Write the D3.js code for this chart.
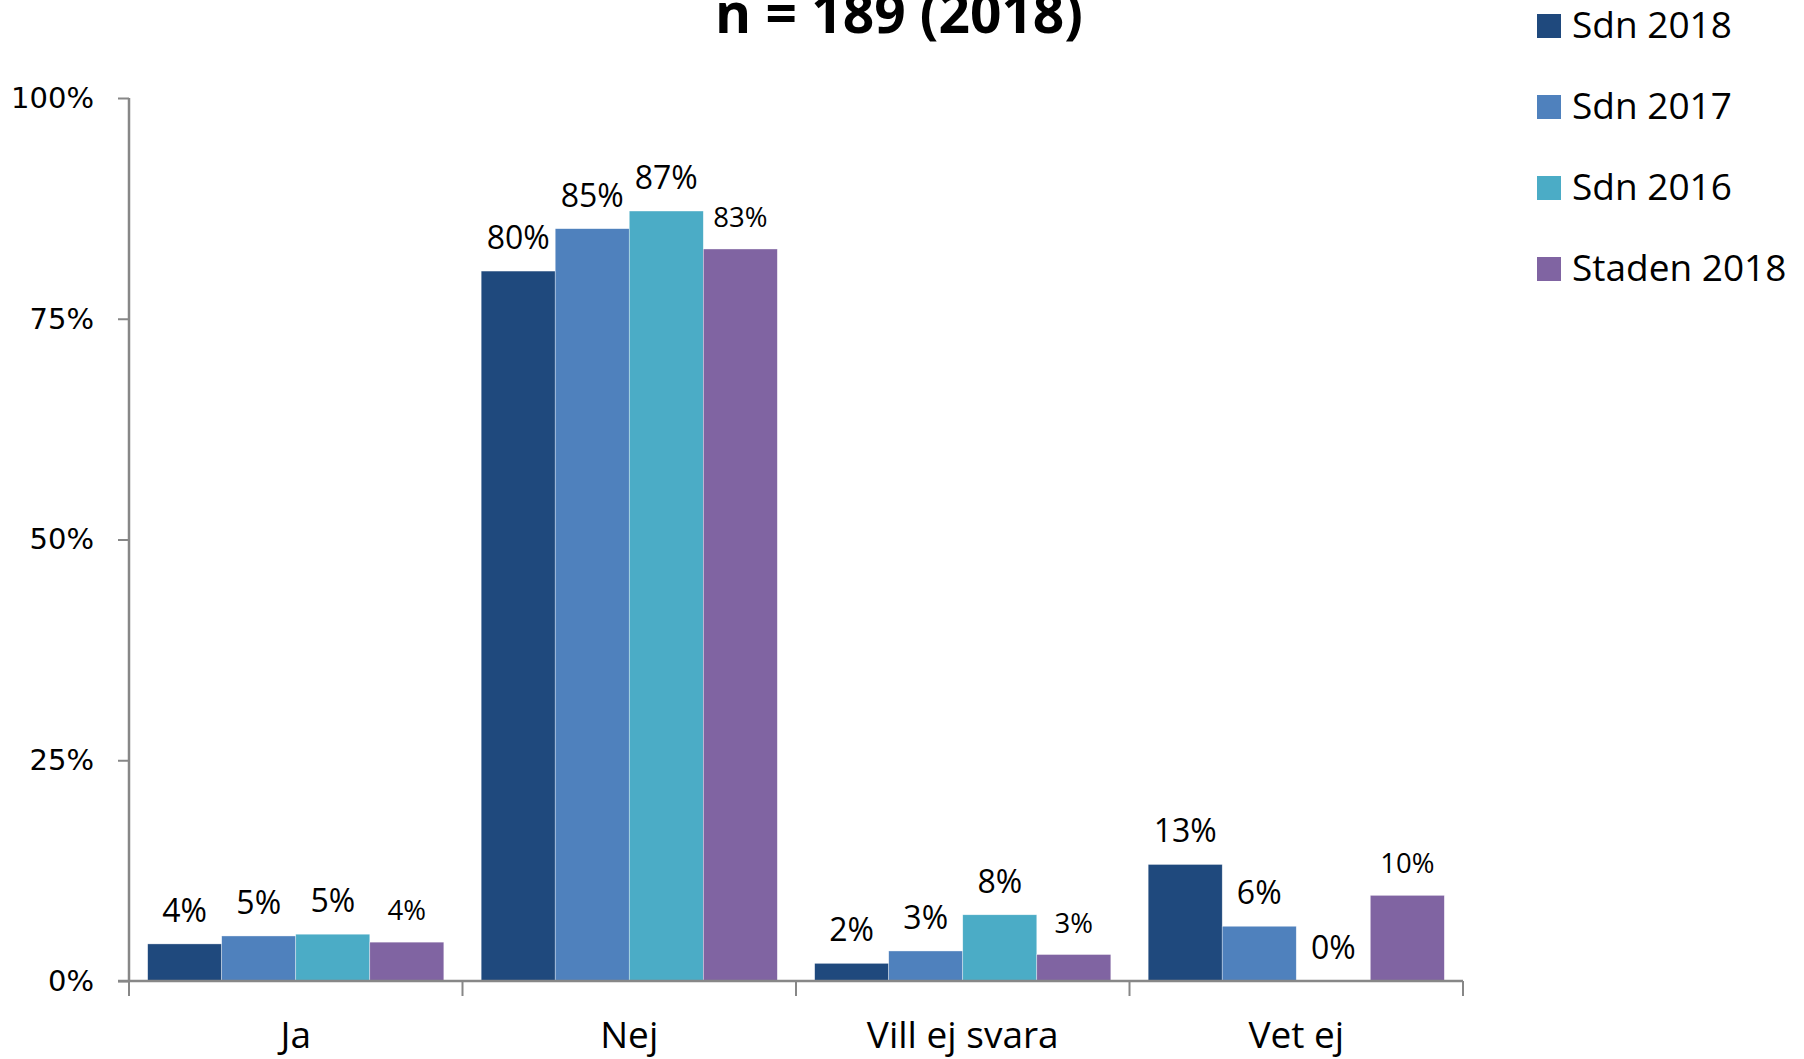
<!DOCTYPE html>
<html>
<head>
<meta charset="utf-8">
<script src="https://cdn.jsdelivr.net/npm/d3@7"></script>
<style>
  html, body { margin: 0; padding: 0; background: #fff; }
  svg { display: block; }
</style>
</head>
<body>
<svg id="chart" width="1804" height="1059"></svg>
<script>
const categories = ["Ja", "Nej", "Vill ej svara", "Vet ej"];
const seriesNames = ["Sdn 2018", "Sdn 2017", "Sdn 2016", "Staden 2018"];
const sdn2018 = [4.2, 80.4, 2.0, 13.2];
const sdn2017 = [5.1, 85.2, 3.4, 6.2];
const sdn2016 = [5.3, 87.2, 7.5, 0];
const staden2018 = [4.4, 82.9, 3.0, 9.7];
const yTicks = [0, 25, 50, 75, 100];
const titleText = "n = 189 (2018)";

const seriesValues = [sdn2018, sdn2017, sdn2016, staden2018];
const colors = ["#1F497D", "#4F81BD", "#4BACC6", "#8064A2"];
const labelSizes = [32, 32, 32, 27.5];

(function () {
const svg = d3.select("#chart");
const mLeft = 129, mRight = 1463, mTop = 98, mBottom = 981;

const x0 = d3.scaleBand().domain(categories).range([mLeft, mRight])
  .paddingInner(0.112).paddingOuter(0.056);
const x1 = d3.scaleBand().domain(seriesNames).range([0, x0.bandwidth()]).padding(0);
const y = d3.scaleLinear().domain([0, 100]).range([mBottom, mTop]);

const rows = [];
categories.forEach((c, ci) => {
  seriesNames.forEach((s, si) => {
    rows.push({ cat: c, ser: s, si: si, v: seriesValues[si][ci] });
  });
});

// bars
svg.append("g").selectAll("rect").data(rows).join("rect")
  .attr("x", d => x0(d.cat) + x1(d.ser))
  .attr("y", d => y(d.v))
  .attr("width", x1.bandwidth())
  .attr("height", d => y(0) - y(d.v))
  .attr("fill", d => colors[d.si])
  .attr("stroke", "#ffffff")
  .attr("stroke-width", 0.6)
  .attr("stroke-opacity", 0.6);

// data labels
svg.append("g").selectAll("text").data(rows).join("text")
  .attr("x", d => x0(d.cat) + x1(d.ser) + x1.bandwidth() / 2)
  .attr("y", d => y(d.v) - 22)
  .attr("text-anchor", "middle")
  .attr("font-family", "'Open Sans', sans-serif")
  .attr("font-size", d => labelSizes[d.si])
  .attr("fill", "#000")
  .text(d => Math.round(d.v) + "%");

// y axis
const yAxis = svg.append("g")
  .attr("transform", `translate(${mLeft},0)`)
  .call(d3.axisLeft(y).tickValues(yTicks).tickFormat(d => d + "%").tickSize(11).tickPadding(24));
yAxis.select(".domain").attr("stroke", "#878787").attr("stroke-width", 2.5)
  .attr("d", `M0,${mTop}V${mBottom}`);
yAxis.selectAll(".tick line").attr("stroke", "#878787").attr("stroke-width", 2);
yAxis.selectAll(".tick text")
  .attr("font-family", "'DejaVu Sans', Verdana, sans-serif")
  .attr("font-size", 29)
  .attr("fill", "#000");

// x axis
const xAxis = svg.append("g")
  .attr("transform", `translate(0,${mBottom})`)
  .call(d3.axisBottom(x0).tickSize(0).tickPadding(41));
xAxis.select(".domain").attr("stroke", "#878787").attr("stroke-width", 2.5)
  .attr("d", `M${mLeft - 11},0H${mRight}`);
xAxis.selectAll(".tick text")
  .attr("font-family", "'Open Sans', sans-serif")
  .attr("font-size", 37)
  .attr("fill", "#000");
const boundaries = d3.range(categories.length + 1).map(i => mLeft + i * x0.step());
xAxis.append("g").selectAll("line").data(boundaries).join("line")
  .attr("x1", d => d).attr("x2", d => d)
  .attr("y1", 0).attr("y2", 15)
  .attr("stroke", "#878787").attr("stroke-width", 2);

// title
svg.append("text")
  .attr("x", 899).attr("y", 33)
  .attr("text-anchor", "middle")
  .attr("font-family", "'Open Sans', sans-serif")
  .attr("font-weight", "bold")
  .attr("font-size", 55)
  .attr("fill", "#000")
  .text(titleText);

// legend
const legend = svg.append("g");
const lg = legend.selectAll("g").data(seriesNames).join("g")
  .attr("transform", (d, i) => `translate(1537,${14 + i * 81})`);
lg.append("rect").attr("width", 24).attr("height", 24).attr("fill", (d, i) => colors[i]);
lg.append("text")
  .attr("x", 35).attr("y", 24)
  .attr("font-family", "'Open Sans', sans-serif")
  .attr("font-size", 37)
  .attr("fill", "#000")
  .text(d => d);
})();
</script>
</body>
</html>
